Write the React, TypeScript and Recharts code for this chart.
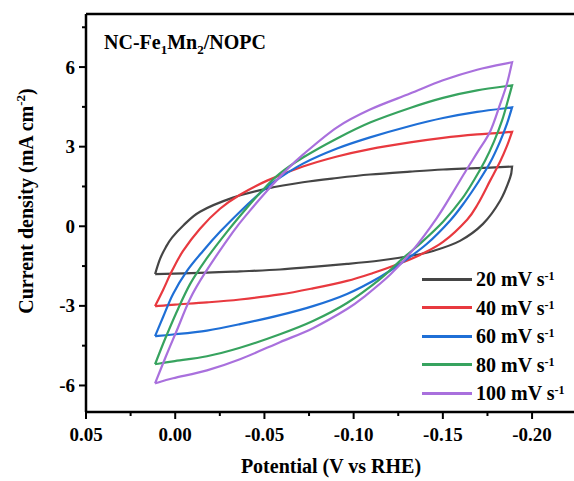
import React from 'react';
import { LineChart, Line, XAxis, YAxis, ReferenceLine, Legend } from 'recharts';

// Potential (V vs RHE), current density (mA cm^-2) pairs.
// Each loop: anodic sweep from +0.011 V to -0.189 V, then the cathodic sweep back.
const cv20: [number, number][] = [
  [0.0113, -1.8], [0.0085, -1.23], [0.0052, -0.78], [0.0018, -0.43], [-0.0044, 0.02], [-0.0139, 0.55],
  [-0.0324, 1.08], [-0.0515, 1.42], [-0.0716, 1.66], [-0.0907, 1.82], [-0.1092, 1.95], [-0.1316, 2.06],
  [-0.1501, 2.14], [-0.1692, 2.19], [-0.1888, 2.25],
  [-0.1877, 1.83], [-0.1821, 0.96], [-0.1725, 0.09], [-0.1596, -0.55], [-0.1445, -0.93], [-0.1316, -1.12],
  [-0.1148, -1.29], [-0.0963, -1.42], [-0.0772, -1.53], [-0.0587, -1.63], [-0.0363, -1.7], [-0.0178, -1.75],
  [0.0113, -1.8],
];
const cv40: [number, number][] = [
  [0.0113, -3.01], [0.0068, -2.4], [0.0018, -1.68], [-0.0044, -0.93], [-0.0139, -0.09], [-0.0251, 0.66],
  [-0.0363, 1.19], [-0.0515, 1.72], [-0.0716, 2.25], [-0.0907, 2.63], [-0.1092, 2.91], [-0.1316, 3.16],
  [-0.1501, 3.33], [-0.1692, 3.46], [-0.1888, 3.56],
  [-0.186, 3.04], [-0.1821, 2.44], [-0.1765, 1.72], [-0.1697, 0.85], [-0.1636, 0.25], [-0.1501, -0.59],
  [-0.1372, -1.08], [-0.1243, -1.44], [-0.1109, -1.76], [-0.0963, -2.06], [-0.0772, -2.34], [-0.0587, -2.57],
  [-0.0363, -2.76], [-0.0178, -2.87], [0.0001, -2.95], [0.0113, -3.01],
];
const cv60: [number, number][] = [
  [0.0113, -4.14], [0.0068, -3.42], [0.0012, -2.55], [-0.0066, -1.68], [-0.0156, -0.93], [-0.0251, -0.21],
  [-0.0363, 0.55], [-0.0459, 1.15], [-0.0548, 1.65], [-0.0716, 2.36], [-0.0907, 2.93], [-0.1092, 3.35],
  [-0.1316, 3.78], [-0.1501, 4.08], [-0.1692, 4.31], [-0.1888, 4.48],
  [-0.186, 3.88], [-0.1821, 3.2], [-0.1765, 2.4], [-0.1697, 1.65], [-0.1624, 0.93], [-0.154, 0.21],
  [-0.1411, -0.66], [-0.1277, -1.34], [-0.1148, -1.91], [-0.0963, -2.55], [-0.0772, -3.01], [-0.0587, -3.35],
  [-0.0363, -3.69], [-0.0178, -3.93], [0.0012, -4.08], [0.0113, -4.14],
];
const cv80: [number, number][] = [
  [0.0113, -5.2], [0.0057, -4.25], [-0.001, -3.2], [-0.0083, -2.18], [-0.0167, -1.3], [-0.029, -0.21],
  [-0.0402, 0.7], [-0.0492, 1.38], [-0.0587, 1.99], [-0.0716, 2.59], [-0.0907, 3.31], [-0.1092, 3.91],
  [-0.1316, 4.46], [-0.1501, 4.84], [-0.1692, 5.12], [-0.1888, 5.31],
  [-0.1865, 4.75], [-0.1832, 3.99], [-0.1787, 3.2], [-0.1737, 2.48], [-0.168, 1.8], [-0.1608, 1.04],
  [-0.1501, 0.17], [-0.1372, -0.66], [-0.126, -1.3], [-0.1148, -1.99], [-0.0963, -2.89], [-0.0772, -3.57],
  [-0.0587, -4.07], [-0.0363, -4.58], [-0.0178, -4.9], [0.0012, -5.09], [0.0113, -5.2],
];
const cv100: [number, number][] = [
  [0.0113, -5.92], [0.0052, -4.9], [-0.001, -3.91], [-0.0083, -2.74], [-0.0167, -1.76], [-0.0324, -0.21],
  [-0.0419, 0.59], [-0.0515, 1.34], [-0.0615, 2.06], [-0.0716, 2.7], [-0.0907, 3.73], [-0.1092, 4.4],
  [-0.1316, 5.0], [-0.1501, 5.5], [-0.1692, 5.9], [-0.1888, 6.18],
  [-0.186, 5.39], [-0.1821, 4.6], [-0.1765, 3.57], [-0.1697, 2.82], [-0.163, 2.1], [-0.1552, 1.23],
  [-0.1467, 0.32], [-0.1333, -0.89], [-0.1204, -1.83], [-0.1064, -2.63], [-0.0963, -3.12], [-0.0772, -3.84],
  [-0.0587, -4.37], [-0.0363, -5.01], [-0.0178, -5.43], [0.0012, -5.73], [0.0113, -5.92],
];

const scanRates = ['20', '40', '60', '80', '100'];
const seriesData = [cv20, cv40, cv60, cv80, cv100];
const colors = ['#454545', '#e8393f', '#1f6fd6', '#37a35f', '#a970dd'];

const xTicks = [0.05, 0.025, 0, -0.025, -0.05, -0.075, -0.1, -0.125, -0.15, -0.175, -0.2];
const yTicks = [-6, -4.5, -3, -1.5, 0, 1.5, 3, 4.5, 6, 7.5];

const FONT = "'Times New Roman', 'Liberation Serif', serif";

// Catmull-Rom curve that keeps sharp corners where the sweep reverses direction.
const cvCurve: any = (context: any) => {
  let pts: number[][] = [];
  return {
    areaStart() {},
    areaEnd() {},
    lineStart() {
      pts = [];
    },
    lineEnd() {
      if (!pts.length) return;
      context.moveTo(pts[0][0], pts[0][1]);
      const segs: number[][][] = [];
      let start = 0;
      for (let i = 1; i < pts.length - 1; i++) {
        const d0 = pts[i][0] - pts[i - 1][0];
        const d1 = pts[i + 1][0] - pts[i][0];
        if (d0 * d1 < 0) {
          segs.push(pts.slice(start, i + 1));
          start = i;
        }
      }
      segs.push(pts.slice(start));
      for (const s of segs) {
        for (let i = 0; i < s.length - 1; i++) {
          const p0 = s[i - 1] || s[i];
          const p1 = s[i];
          const p2 = s[i + 1];
          const p3 = s[i + 2] || s[i + 1];
          context.bezierCurveTo(
            p1[0] + (p2[0] - p0[0]) / 6,
            p1[1] + (p2[1] - p0[1]) / 6,
            p2[0] - (p3[0] - p1[0]) / 6,
            p2[1] - (p3[1] - p1[1]) / 6,
            p2[0],
            p2[1]
          );
        }
      }
    },
    point(x: number, y: number) {
      pts.push([+x, +y]);
    },
  };
};

const XTick = (props: any) => {
  const { x, y, payload } = props;
  const v = payload.value;
  const major = Math.abs(Math.round(v * 1000)) % 50 === 0;
  return (
    <g>
      <line x1={x} x2={x} y1={y} y2={y + (major ? 7 : 4)} stroke="#000" strokeWidth={2} />
      {major && (
        <text x={x} y={y + 29} textAnchor="middle" fontFamily={FONT} fontWeight="bold" fontSize={19} fill="#000">
          {v.toFixed(2)}
        </text>
      )}
    </g>
  );
};

const YTick = (props: any) => {
  const { x, y, payload } = props;
  const v = payload.value;
  const major = Math.abs(Math.round(v * 10)) % 30 === 0;
  return (
    <g>
      <line x1={x} x2={x - (major ? 7 : 4)} y1={y} y2={y} stroke="#000" strokeWidth={2} />
      {major && (
        <text x={x - 11} y={y + 6.5} textAnchor="end" fontFamily={FONT} fontWeight="bold" fontSize={19} fill="#000">
          {String(v)}
        </text>
      )}
    </g>
  );
};

const LegendContent = (props: any) => {
  const items = [...(props.payload || [])].sort((a: any, b: any) => Number(a.value) - Number(b.value));
  return (
    <div style={{ fontFamily: FONT, fontWeight: 'bold', fontSize: 20, color: '#000' }}>
      {items.map((p: any, i: number) => (
        <div key={i} style={{ height: 28.5, display: 'flex', alignItems: 'center' }}>
          <div style={{ width: 50, height: 3, background: p.color, marginRight: 4 }} />
          <span style={{ whiteSpace: 'nowrap', lineHeight: '20px' }}>
            {p.value} mV s<sup style={{ fontSize: 12, verticalAlign: 'top', position: 'relative', top: -3 }}>-1</sup>
          </span>
        </div>
      ))}
    </div>
  );
};

export default function App() {
  return (
    <div style={{ position: 'absolute', left: 0, top: 0, width: 574, height: 481, background: '#fff', overflow: 'hidden' }}>
      <LineChart width={574} height={481} margin={{ top: 14, right: 0, bottom: 0, left: 0 }}>
        <XAxis
          type="number"
          dataKey="v"
          domain={[-0.2235, 0.05]}
          reversed
          ticks={xTicks}
          interval={0}
          tick={<XTick />}
          tickLine={false}
          tickSize={0}
          tickMargin={0}
          height={69}
          axisLine={{ stroke: '#000', strokeWidth: 2.5 }}
          allowDataOverflow
        />
        <YAxis
          type="number"
          domain={[-7, 8]}
          ticks={yTicks}
          interval={0}
          tick={<YTick />}
          tickLine={false}
          tickSize={0}
          tickMargin={0}
          width={86}
          axisLine={{ stroke: '#000', strokeWidth: 2.5 }}
          allowDataOverflow
        />
        <ReferenceLine y={8} stroke="#000" strokeWidth={2.5} />
        {seriesData.map((d, i) => (
          <Line
            key={scanRates[i]}
            name={scanRates[i]}
            data={d.map(([v, j]) => ({ v, j }))}
            dataKey="j"
            type={cvCurve}
            stroke={colors[i]}
            strokeWidth={2.2}
            dot={false}
            activeDot={false}
            isAnimationActive={false}
          />
        ))}
        <Legend
          layout="vertical"
          align="center"
          verticalAlign="middle"
          content={<LegendContent />}
          wrapperStyle={{ position: 'absolute', left: 422, top: 265, width: 150 }}
        />
      </LineChart>
      <svg width={574} height={481} style={{ position: 'absolute', left: 0, top: 0, pointerEvents: 'none' }}>
        <text x={104} y={49} fontFamily={FONT} fontWeight="bold" fontSize={20} fill="#000">
          NC-Fe<tspan dy={5} fontSize={13}>1</tspan>
          <tspan dy={-5}>Mn</tspan>
          <tspan dy={5} fontSize={13}>2</tspan>
          <tspan dy={-5}>/NOPC</tspan>
        </text>
        <text x={331} y={473} textAnchor="middle" fontFamily={FONT} fontWeight="bold" fontSize={20} fill="#000">
          Potential (V vs RHE)
        </text>
        <text
          x={0}
          y={0}
          transform="translate(33,201) rotate(-90)"
          textAnchor="middle"
          fontFamily={FONT}
          fontWeight="bold"
          fontSize={20}
          fill="#000"
        >
          Current density (mA cm<tspan dy={-8} fontSize={13}>-2</tspan>
          <tspan dy={8}>)</tspan>
        </text>
      </svg>
    </div>
  );
}
